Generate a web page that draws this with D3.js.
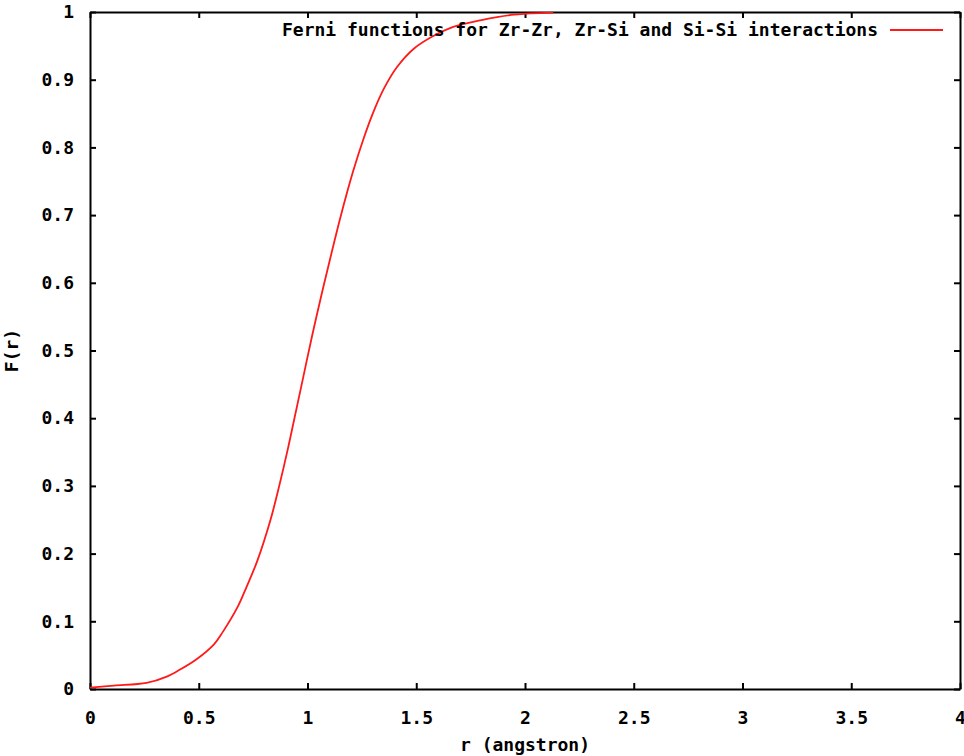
<!DOCTYPE html>
<html>
<head>
<meta charset="utf-8">
<script src="https://cdn.jsdelivr.net/npm/d3@7"></script>
<style>
  body { margin: 0; background: #fff; }
  text { font-family: "DejaVu Sans Mono", monospace; font-weight: bold; font-size: 18px; fill: #000; }
</style>
</head>
<body>
<svg width="964" height="756"></svg>
<script>
var rValues = [0, 0.11, 0.26, 0.35, 0.41, 0.49, 0.57, 0.61, 0.68, 0.72, 0.77, 0.83, 0.87, 0.91, 0.94, 0.98, 1.02, 1.07, 1.10, 1.15, 1.21, 1.26, 1.30, 1.35, 1.41, 1.49, 1.57, 1.67, 1.80, 1.95, 2.13];
var fValues = [0.002, 0.005, 0.009, 0.018, 0.028, 0.044, 0.066, 0.084, 0.122, 0.151, 0.19, 0.25, 0.30, 0.355, 0.40, 0.46, 0.52, 0.59, 0.63, 0.695, 0.765, 0.815, 0.85, 0.886, 0.918, 0.946, 0.963, 0.978, 0.988, 0.996, 0.999];
var xTicks = [0, 0.5, 1, 1.5, 2, 2.5, 3, 3.5, 4];
var yTicks = [0, 0.1, 0.2, 0.3, 0.4, 0.5, 0.6, 0.7, 0.8, 0.9, 1];
var legendLabel = "Ferni functions for Zr-Zr, Zr-Si and Si-Si interactions";

var margin = {top: 12, right: 4, bottom: 67, left: 90};
var svg = d3.select("svg");
var width = +svg.attr("width") - margin.left - margin.right;
var height = +svg.attr("height") - margin.top - margin.bottom;
var g = svg.append("g")
  .attr("transform", "translate(" + margin.left + "," + margin.top + ")");

var data = rValues.map(function(r, i) { return {r: r, f: fValues[i]}; });

var scaleX = d3.scaleLinear().domain([0, 4]).range([0, width]);
var scaleY = d3.scaleLinear().domain([0, 1]).range([height, 0]);

var fmt = function(d) { return String(d); };

// gnuplot style: ticks inward, mirrored on all four sides
var tickLen = 6;
g.append("g")
    .attr("class", "axis x-axis")
    .attr("transform", "translate(0," + height + ")")
    .call(d3.axisBottom(scaleX).tickValues(xTicks).tickFormat(fmt).tickSizeInner(-tickLen).tickSizeOuter(0).tickPadding(22));
g.append("g")
    .attr("class", "axis x-axis-top")
    .call(d3.axisTop(scaleX).tickValues(xTicks).tickFormat("").tickSizeInner(-tickLen).tickSizeOuter(0));
g.append("g")
    .attr("class", "axis y-axis")
    .call(d3.axisLeft(scaleY).tickValues(yTicks).tickFormat(fmt).tickSizeInner(-tickLen).tickSizeOuter(0).tickPadding(16));
g.append("g")
    .attr("class", "axis y-axis-right")
    .attr("transform", "translate(" + width + ",0)")
    .call(d3.axisRight(scaleY).tickValues(yTicks).tickFormat("").tickSizeInner(-tickLen).tickSizeOuter(0));

g.selectAll(".axis path").attr("stroke", "#000").attr("stroke-width", 2);
g.selectAll(".axis line").attr("stroke", "#000").attr("stroke-width", 2);
g.selectAll(".axis text")
  .attr("font-family", "DejaVu Sans Mono, monospace")
  .attr("font-weight", "bold")
  .attr("font-size", 18)
  .attr("fill", "#000");

var line = d3.line()
  .x(function(d) { return scaleX(d.r); })
  .y(function(d) { return scaleY(d.f); })
  .curve(d3.curveCatmullRom.alpha(0.5));

g.append("path")
  .datum(data)
  .attr("fill", "none")
  .attr("stroke", "#ff1a1a")
  .attr("stroke-width", 1.8)
  .attr("d", line);

// legend
g.append("text")
  .attr("x", 788)
  .attr("y", 24)
  .attr("text-anchor", "end")
  .text(legendLabel);
g.append("line")
  .attr("x1", 800)
  .attr("x2", 853)
  .attr("y1", 18)
  .attr("y2", 18)
  .attr("stroke", "#ff1a1a")
  .attr("stroke-width", 2);

// axis labels
svg.append("text")
  .attr("x", margin.left + width / 2)
  .attr("y", 751)
  .attr("text-anchor", "middle")
  .text("r (angstron)");
svg.append("text")
  .attr("transform", "translate(18," + (margin.top + height / 2) + ") rotate(-90)")
  .attr("text-anchor", "middle")
  .text("F(r)");
</script>
</body>
</html>
